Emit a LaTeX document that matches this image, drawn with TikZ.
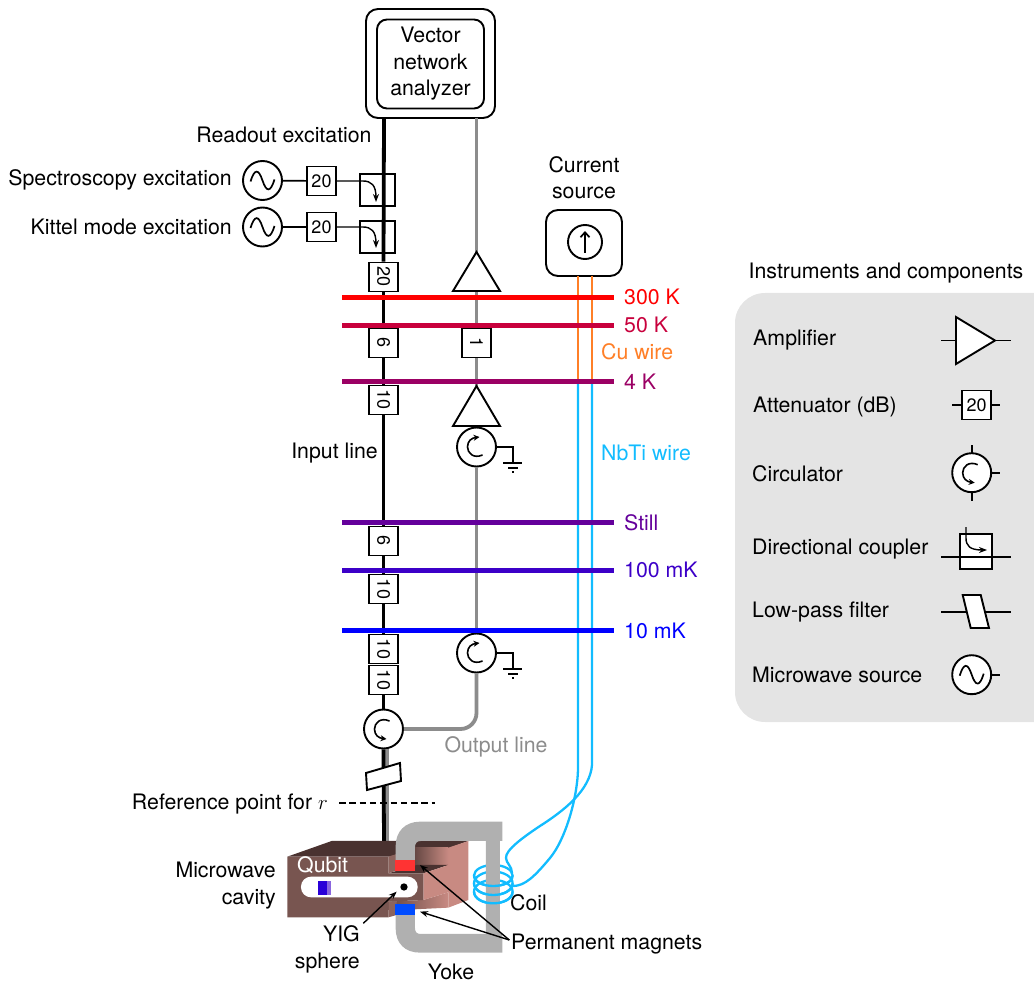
\documentclass[tikz,border=0pt]{standalone}
\usepackage{fontspec}
\setmainfont{TeX Gyre Heros}
\usetikzlibrary{arrows.meta,calc}
\definecolor{cred}{HTML}{FF0000}
\definecolor{cfifty}{HTML}{C8003C}
\definecolor{cfour}{HTML}{9B0064}
\definecolor{cstill}{HTML}{64009B}
\definecolor{chund}{HTML}{3C00C8}
\definecolor{cten}{HTML}{0000FF}
\definecolor{ccu}{HTML}{FF7F27}
\definecolor{cnb}{HTML}{12BCFF}
\definecolor{cgr}{HTML}{8C8C8C}
\definecolor{cpanel}{HTML}{E4E4E4}
\definecolor{cyoke}{HTML}{B0B0B0}
\definecolor{cfront}{HTML}{785550}
\definecolor{cside}{HTML}{8C645E}
\definecolor{ctop}{HTML}{4A3230}
\definecolor{cpink}{HTML}{C88A82}
\tikzset{
 x=1pt,y=-1pt,
 lbl/.style={inner sep=0pt,font=\fontsize{21.3}{26.5}\selectfont,text height=14pt,text depth=0pt},
 lblm/.style={inner sep=0pt,font=\fontsize{21.3}{26.5}\selectfont,align=center},
 att/.style={draw,fill=white,line width=1.9pt,minimum width=29pt,minimum height=29pt,inner sep=0pt,font=\fontsize{18}{20}\selectfont},
 attv/.style={att,rotate=-90},
 circ/.style={circle,draw,fill=white,line width=1.9pt,minimum size=39pt,inner sep=0pt},
 thin line/.style={line width=1.7pt},
 frame/.style={line width=1.9pt},
 blk/.style={line width=3.8pt},
 gry/.style={line width=3.8pt,color=cgr},
 stage/.style={line width=5pt},
 tip/.style={-{Stealth[length=8pt,width=6pt]},line width=1.4pt},
 curr/.style={line width=2.3pt},
 carrow/.style={line width=1.6pt,-{Stealth[length=6pt,width=6pt]}},
}
\newcommand{\sinewave}[2]{\draw[line width=1.7pt] (#1-12,#2+1) .. controls (#1-8,#2-12) and (#1-4,#2-12) .. (#1,#2) .. controls (#1+4,#2+12) and (#1+8,#2+12) .. (#1+12,#2-1);}
\newcommand{\circup}[2]{\draw[carrow] (#1+6,#2+8) .. controls (#1-3,#2+12) and (#1-9,#2+6) .. (#1-9,#2) .. controls (#1-9,#2-6) and (#1-5,#2-9) .. (#1+3,#2-10);}
\newcommand{\circdown}[2]{\draw[carrow] (#1+6,#2-8) .. controls (#1-3,#2-12) and (#1-9,#2-6) .. (#1-9,#2) .. controls (#1-9,#2+6) and (#1-5,#2+9) .. (#1+3,#2+10);}
\newcommand{\ringfront}[2]{\draw[curr,cnb] (493.3-19.3,#1) .. controls (493.3-19.3,#1+#2*1.33) and (493.3+19.3,#1+#2*1.33) .. (493.3+19.3,#1);}
\begin{document}
\begin{tikzpicture}
\useasboundingbox (0,0) rectangle (1034,984);
% legend panel
\begin{scope}
\clip (0,0) rectangle (1034,984);
\fill[cpanel,rounded corners=30pt] (735,293) rectangle (1070,722);
\end{scope}
\node[draw,frame,rounded corners=12pt,minimum width=129pt,minimum height=109pt] (vnaouter) at (430.5,63.5) {};
\node[draw,frame,rounded corners=10pt,minimum width=107pt,minimum height=89pt,lblm] (vna) at (430.5,64) {Vector\\network\\analyzer};
\coordinate (rdA) at (384,118);
\coordinate (grA) at (476.5,118);
% sources and attenuators on top
\node[circ] (s1) at (262.5,180.5) {};
\node[circ] (s2) at (262.5,227) {};
\sinewave{262.5}{180.5}\sinewave{262.5}{227}
\node[att] (a1) at (321.5,181) {20};
\node[att] (a2) at (321.5,227) {20};
\draw[thin line] (s1) -- (a1);
\draw[thin line] (s2) -- (a2);
% signal lines first, parts on top
\node[attv] (a20) at (383.5,277) {20};
\node[attv] (a6a) at (383.5,343) {6};
\node[attv] (a10a) at (383.5,400) {10};
\node[attv] (a6b) at (383.5,541) {6};
\node[attv] (a10b) at (383.5,589) {10};
\node[attv] (a10c) at (383.5,649) {10};
\node[attv] (a10d) at (383.5,680) {10};
\node[attv] (a1b) at (476.5,343) {1};
\node[circ] (c3) at (383.5,729) {};
\node[circ] (c1) at (476.5,447) {};
\node[circ] (c2) at (476.5,653) {};
\coordinate (cavtop) at (384,842);
\coordinate (cavtopg) at (387,842);
\coordinate (c3g) at (387,749);
\draw[gry] (c3g) -- (cavtopg);
\draw[blk] (rdA) -- (a20.west);
\draw[blk] (a20.east) -- (a6a.west);
\draw[blk] (a6a.east) -- (a10a.west);
\draw[blk] (a10a.east) -- (a6b.west);
\draw[blk] (a6b.east) -- (a10b.west);
\draw[blk] (a10b.east) -- (a10c.west);
\draw[blk] (a10d.east) -- (c3.north);
\draw[blk] (c3.south) -- (cavtop);
\fill[white,draw=black,frame] (366,773) -- (400,763) -- (401,781) -- (367,790) -- cycle;
\coordinate (amp1t) at (476.5,252);
\coordinate (amp1b) at (476.5,291);
\coordinate (amp2t) at (476.5,386);
\draw[gry] (grA) -- (amp1t);
\draw[gry] (amp1b) -- (a1b.west);
\draw[gry] (a1b.east) -- (amp2t);
\draw[gry] (c1.south) -- (c2.north);
\draw[gry,rounded corners=16pt] (c2.south) -- (476.5,729) -- (c3.east);
% couplers
\coordinate (cpA1) at (360,174);\coordinate (cpB1) at (395,206);
\coordinate (cpA2) at (360,221);\coordinate (cpB2) at (395,253);
\draw[frame] (cpA1) rectangle (cpB1);
\draw[frame] (cpA2) rectangle (cpB2);
\coordinate (tp1) at (376,202);\coordinate (tp2) at (376,248);
\draw[tip] (a1.east) -- (363,181) .. controls (371,181) and (376,185) .. (tp1);
\draw[tip] (a2.east) -- (363,227) .. controls (371,227) and (376,231) .. (tp2);
% amplifiers
\draw[frame,fill=white] (amp1t) -- (500,291) -- (453,291) -- cycle;
\draw[frame,fill=white] (amp2t) -- (500,426) -- (453,426) -- cycle;
% current source and wires
\node[draw,frame,rounded corners=12pt,minimum width=76pt,minimum height=66pt] (cs) at (584,243) {};
\node[circle,draw,frame,minimum size=34pt,inner sep=0pt] (csc) at (585,242) {};
\draw[line width=1.7pt,-{Straight Barb[length=5pt,width=9pt]}] (585,253) -- (585,231);
\coordinate (cuL) at (578,381);\coordinate (cuR) at (592,381);
\coordinate (cuLt) at (578,276);\coordinate (cuRt) at (592,276);
\draw[curr,ccu] (cuLt) -- (cuL);
\draw[curr,ccu] (cuRt) -- (cuR);
% cavity
\begin{scope}[shift={(250,760)},x=0.3333pt,y=-0.3333pt]
 \fill[ctop] (112,290) -- (245,243) -- (655,243) -- (595,265) -- (495,265) -- (495,290) -- cycle;
 \shade[left color=cfront!85!black,right color=cpink] (495,262) rectangle (595,318);
 \fill[ctop] (415,340) -- (500,315) -- (595,315) -- (520,340) -- cycle;
 \shade[left color=cfront!85!black,right color=cpink] (415,450) -- (415,425) -- (520,420) -- (595,397) -- (595,443) -- (495,448) -- cycle;
 \fill[cpink] (595,263) -- (655,243) -- (655,420) -- (595,443) -- (595,397) -- (520,420) -- (520,340) -- (595,315) -- cycle;
 \fill[cside] (415,290) -- (440,282) -- (440,332) -- (415,340) -- cycle;
 \fill[cside] (415,425) -- (440,424) -- (440,465) -- (415,472) -- cycle;
 \fill[cfront] (112,290) -- (415,290) -- (415,340) -- (520,340) -- (520,420) -- (415,425) -- (415,472) -- (112,472) -- cycle;
 \fill[white,rounded corners=10pt] (153,350) rectangle (503,412);
 \fill[chund!60!white] (232,362) rectangle (242,405);
 \fill[chund!70!blue] (205,362) rectangle (232,405);
 \fill[black] (462,381) circle[radius=11];
\end{scope}
% coil behind yoke
\foreach \cy/\ry in {875.5/10.5,883.3/11.7,891.6/11.7}{
 \draw[curr,cnb] (493.3,\cy) ellipse[x radius=19.3pt,y radius=\ry pt];
}
\begin{scope}[shift={(250,760)},x=0.3333pt,y=-0.3333pt]
 \fill[cyoke]
   (757,185) -- (510,185) .. controls (465,185) and (437,215) .. (437,258) -- (437,300) -- (495,300) -- (495,262) .. controls (495,250) and (500,243) .. (512,243) -- (708,243) -- (708,522) -- (512,522) .. controls (500,522) and (495,515) .. (495,505) -- (495,465) -- (437,465) -- (437,505) .. controls (437,550) and (465,578) .. (510,578) -- (757,578) -- (757,522) -- (750,522) -- (750,243) -- (757,243) -- cycle;
 \fill[red!80!white] (435,300) rectangle (495,332);
 \fill[blue!70!cyan] (435,432) rectangle (495,465);
 \node[lbl,white] (qb) at (218,318) {Qubit};
 \coordinate (yigT) at (440,395);
 \coordinate (yigS) at (340,490);
 \coordinate (pmA) at (510,315);
 \coordinate (pmB) at (510,455);
 \coordinate (pmS) at (778,540);
\end{scope}
\ringfront{875.5}{10.5}\ringfront{883.3}{11.7}\ringfront{891.6}{11.7}
\coordinate (coilA) at (512,873);\coordinate (coilB) at (513,886);
\draw[curr,cnb] (cuL) -- (578,770) .. controls (577,800) and (565,840) .. (550,858) .. controls (535,876) and (525,886) .. (coilB);
\draw[curr,cnb] (cuR) -- (592,765) .. controls (590,790) and (565,810) .. (540,826) .. controls (525,836) and (505,850) .. (506,858) .. controls (506,863) and (512,866) .. (coilA);
\draw[tip] (yigS) -- (yigT);
\draw[tip] (pmS) -- (pmA);
\draw[tip] (pmS) -- (pmB);
% stages
\foreach \y/\c in {297.5/cred,325.5/cfifty,381.5/cfour,522.5/cstill,570.5/chund,630.5/cten}{
 \draw[stage,\c] (342,\y) -- (614,\y);
}
% circulator arrows
\circup{476.5}{447}\circup{476.5}{653}\circdown{383.5}{729}
% grounds
\foreach \cy/\n in {447/g1,653/g2}{
 \coordinate (\n) at (513,\cy);
 \draw[line width=1.5pt] (496.5,\cy) -- (\n) -- (513,\cy+16);
 \draw[line width=1.5pt] (503,\cy+16) -- (522,\cy+16);
 \draw[line width=1.5pt] (508,\cy+21) -- (518,\cy+21);
 \draw[line width=1.5pt] (512,\cy+25) -- (514,\cy+25);
}
% dashed ref
\coordinate (dA) at (339,803);\coordinate (dB) at (435,803);
\node[lbl,anchor=east] (refl) at (328,802) {Reference point for $r$};
\draw[line width=1.5pt,dash pattern=on 6.5pt off 3.8pt] (dA) -- (dB);
% labels
\node[lbl] (l1) at (284,136) {Readout excitation};
\node[lbl,anchor=east] (l2) at (232,179) {Spectroscopy excitation};
\node[lbl,anchor=east] (l3) at (232,228) {Kittel mode excitation};
\node[lblm] (l4) at (584,177.5) {Current\\source};
\node[lbl,anchor=east] (l5) at (378,451) {Input line};
\node[lbl,cgr] (l6) at (496,745) {Output line};
\node[lbl,anchor=west,cred] (t1) at (624,298) {300 K};
\node[lbl,anchor=west,cfifty] (t2) at (624,326) {50 K};
\node[lbl,anchor=west,ccu] (t3) at (601,353) {Cu wire};
\node[lbl,anchor=west,cfour] (t4) at (624,382) {4 K};
\node[lbl,anchor=west,cnb] (t5) at (601,453) {NbTi wire};
\node[lbl,anchor=west,cstill] (t6) at (624,523) {Still};
\node[lbl,anchor=west,chund] (t7) at (624,570) {100 mK};
\node[lbl,anchor=west,cten] (t8) at (624,631) {10 mK};
\node[lblm,align=right,anchor=east] (l7) at (276,885.5) {Microwave\\cavity};
\node[lblm,align=right,anchor=east] (l8) at (360,949.5) {YIG\\sphere};
\node[lbl,anchor=west] (l9) at (510,903) {Coil};
\node[lbl,anchor=west] (l10) at (511,942) {Permanent magnets};
\node[lbl] (l11) at (451,972) {Yoke};
% legend
\node[lbl] (lt) at (886,272) {Instruments and components};
\node[lbl,anchor=west] (k1) at (753,339) {Amplifier};
\node[lbl,anchor=west] (k2) at (753,405) {Attenuator (dB)};
\node[lbl,anchor=west] (k3) at (752,474) {Circulator};
\node[lbl,anchor=west] (k4) at (752,547) {Directional coupler};
\node[lbl,anchor=west] (k5) at (752,610) {Low-pass filter};
\node[lbl,anchor=west] (k6) at (752,675) {Microwave source};
% legend amp
\draw[thin line] (941,340.5) -- (956,340.5);
\draw[thin line] (995,340.5) -- (1011,340.5);
\draw[frame,fill=white] (956,317) -- (995,340.5) -- (956,364) -- cycle;
% legend att
\coordinate (la1) at (952,405);\coordinate (la2) at (1000,405);
\node[att] (lat) at (976.7,405) {20};
\draw[thin line] (la1) -- (lat);\draw[thin line] (lat) -- (la2);
% legend circ
\coordinate (lc1) at (971.7,445);\coordinate (lc2) at (971.7,501);\coordinate (lc3) at (1000,472.7);\coordinate (lc0) at (971.7,472.7);
\draw[thin line] (lc1) -- (lc2);\draw[thin line] (lc0) -- (lc3);
\node[circ] (lc) at (lc0) {};
\circdown{971.7}{472.7}
% legend coupler
\draw[frame,fill=white] (960,534) rectangle (991.7,569);
\draw[thin line] (941,557.3) -- (1011,557.3);
\draw[tip] (966,527) -- (966,538) .. controls (966,546) and (970,550) .. (987,550);
% legend filter
\draw[thin line] (941,611.7) -- (1011,611.7);
\draw[frame,fill=white] (962.7,595) -- (980.7,595) -- (989,628) -- (970.7,628) -- cycle;
% legend source
\coordinate (ls0) at (971.7,674.7);\coordinate (ls1) at (1000,674.7);
\draw[thin line] (ls0) -- (ls1);
\node[circ] (ls) at (ls0) {};
\sinewave{971.7}{674.7}
\end{tikzpicture}
\end{document}
